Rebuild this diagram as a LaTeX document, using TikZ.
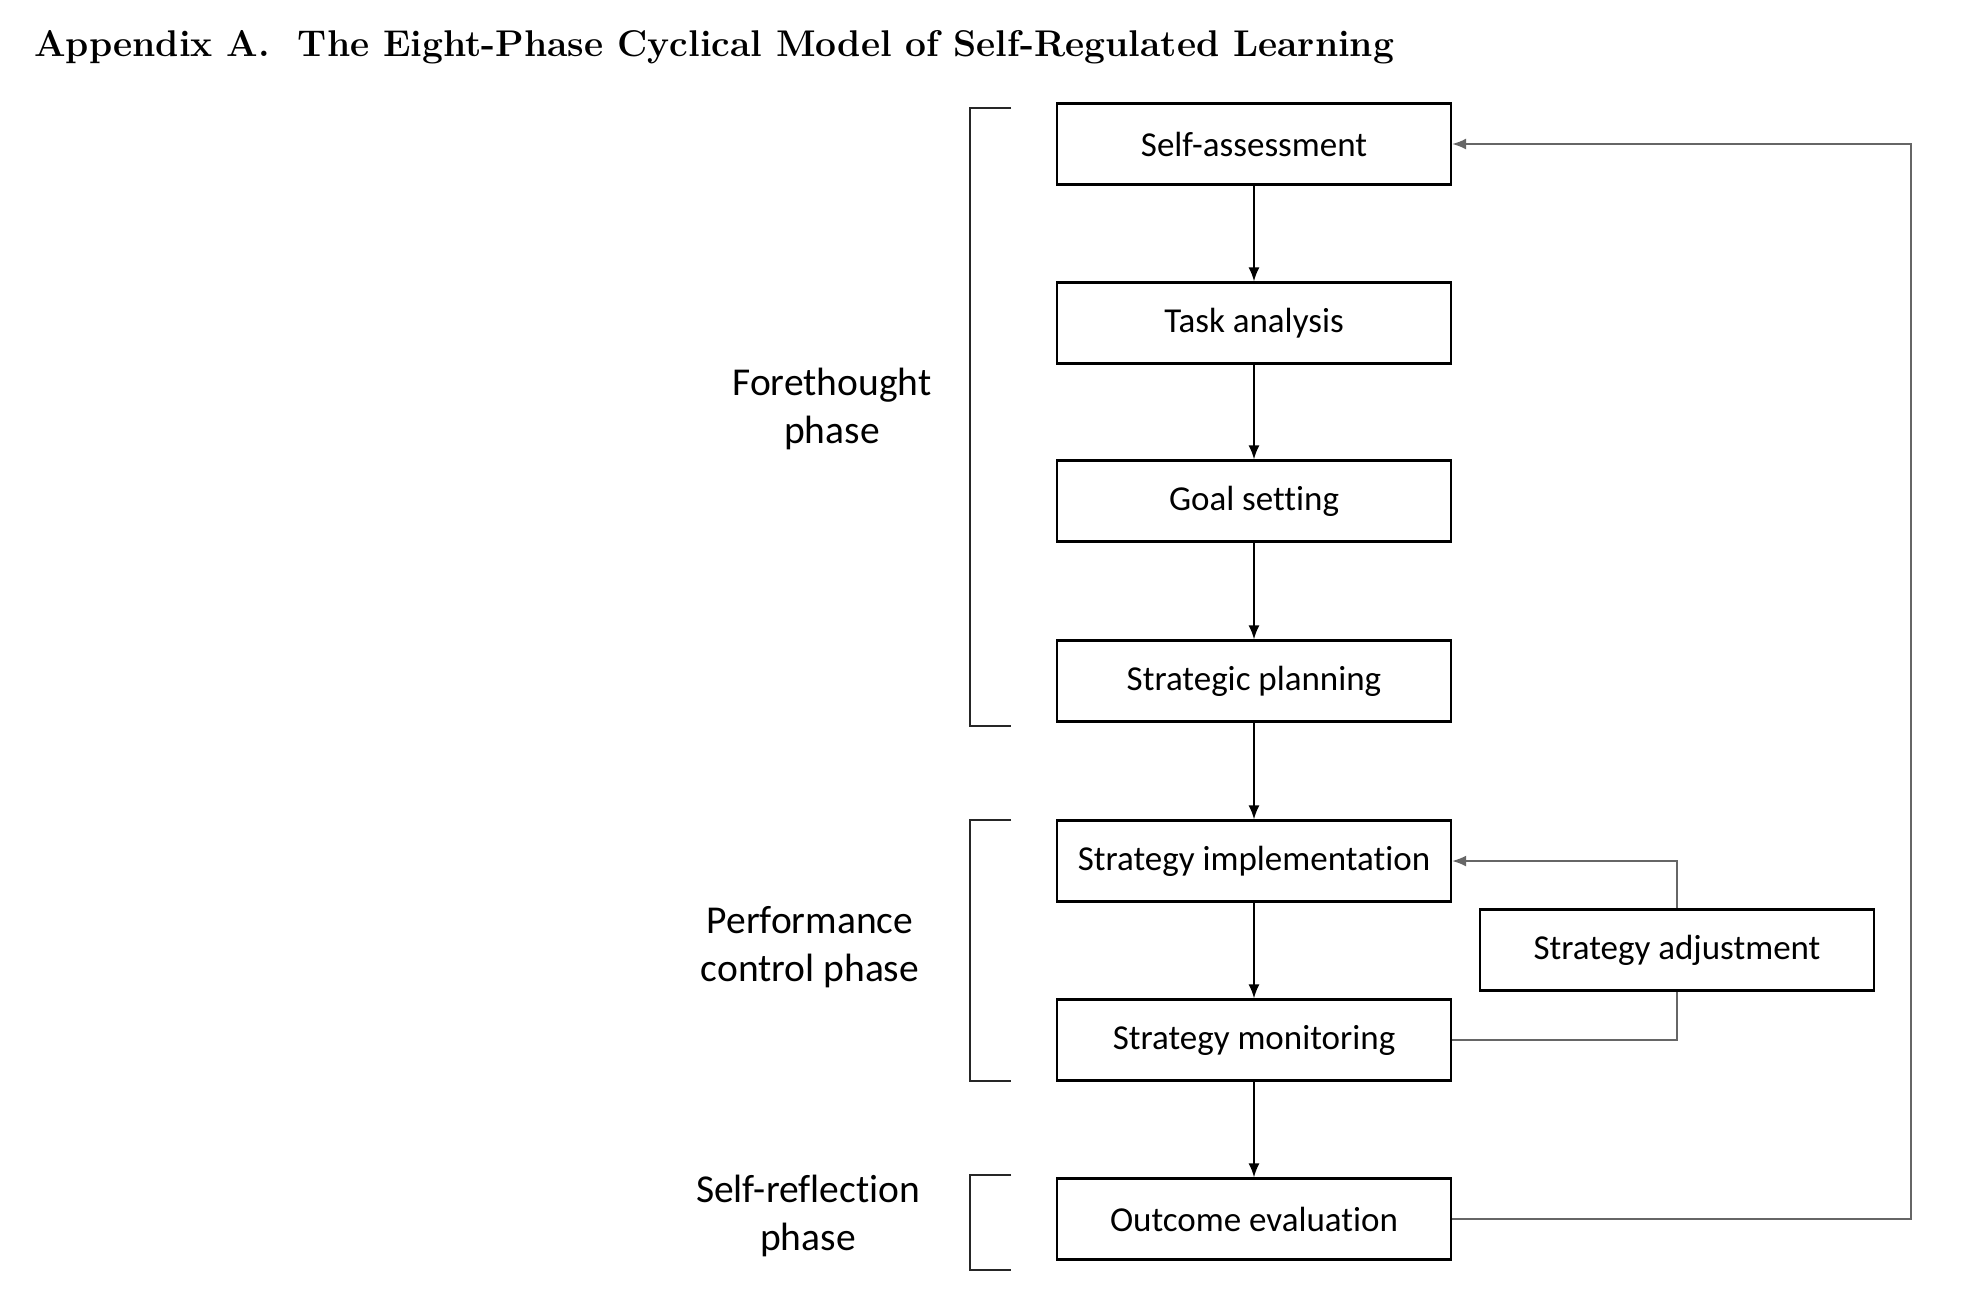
\documentclass[tikz,border=0pt]{standalone}
\usepackage{fontspec}
\newfontfamily\carlito[Ligatures={NoCommon,NoRare}]{Carlito}
\usetikzlibrary{arrows.meta}
\begin{document}
\begin{tikzpicture}[x=1pt,y=-1pt,
  box/.style={draw=black, line width=2.4pt, minimum width=394pt, minimum height=81pt, inner sep=0pt,
    font=\carlito\fontsize{35}{42}\selectfont},
  phaselabel/.style={align=center, inner sep=0pt, font=\carlito\fontsize{39.5}{48}\selectfont},
  arr/.style={draw=black, line width=1.6pt, -{Latex[length=14pt,width=11pt]}},
  loopline/.style={draw=black!60, line width=1.6pt},
  looparr/.style={loopline, -{Latex[length=14pt,width=11pt]}},
  bracketline/.style={draw=black!85, line width=2.6pt}]
\fill[white] (0,0) rectangle (1970,1310);
\useasboundingbox (0,0) rectangle (1970,1310);

\node[anchor=base west, inner sep=0pt] (title) at (34,56)
  {\fontsize{37.2}{44}\selectfont\bfseries Appendix A.\ \ The Eight-Phase Cyclical Model of Self-Regulated Learning};

\node[box] (sa) at (1254,144) {Self-assessment};
\node[box] (ta) at (1254,323) {Task analysis};
\node[box] (gs) at (1254,501) {Goal setting};
\node[box] (sp) at (1254,681) {Strategic planning};
\node[box] (si) at (1254,861) {Strategy implementation};
\node[box] (sm) at (1254,1040) {Strategy monitoring};
\node[box] (oe) at (1254,1219) {Outcome evaluation};
\node[box] (sadj) at (1677,950) {Strategy adjustment};

\draw[arr] (sa) -- (ta);
\draw[arr] (ta) -- (gs);
\draw[arr] (gs) -- (sp);
\draw[arr] (sp) -- (si);
\draw[arr] (si) -- (sm);
\draw[arr] (sm) -- (oe);

\coordinate (fbc) at (1911,1219);
\draw[looparr] (oe.east) -- (fbc) |- (sa.east);
\draw[loopline] (sm.east) -| (sadj.south);
\draw[looparr] (sadj.north) |- (si.east);

\draw[bracketline] (1011,108) -- (970,108) -- (970,726) -- (1011,726);
\draw[bracketline] (1011,820) -- (970,820) -- (970,1081) -- (1011,1081);
\draw[bracketline] (1011,1175) -- (970,1175) -- (970,1270) -- (1011,1270);

\node[phaselabel] (fp) at (832,409) {Forethought\\phase};
\node[phaselabel] (pcp) at (810,947) {Performance\\control phase};
\node[phaselabel] (srp) at (808,1216) {Self-reflection\\phase};
\end{tikzpicture}
\end{document}
